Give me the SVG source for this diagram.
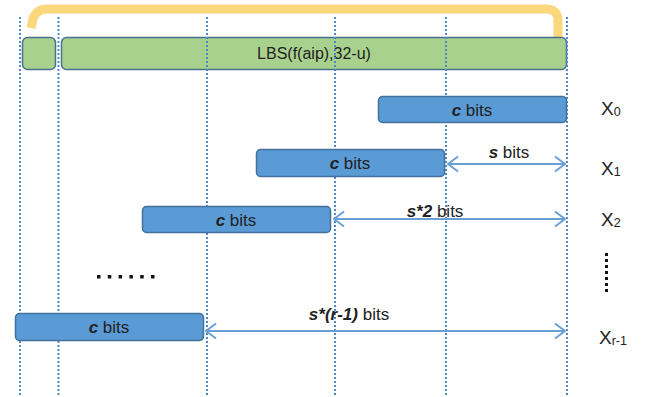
<svg xmlns="http://www.w3.org/2000/svg" width="652" height="397" viewBox="0 0 652 397">
<defs>
<marker id="ah" viewBox="0 0 12 18" refX="11" refY="9" markerWidth="12" markerHeight="18" markerUnits="userSpaceOnUse" orient="auto-start-reverse">
<path d="M1 1.5 L11 9 L1 16.5" fill="none" stroke="#6A9FD6" stroke-width="2"/>
</marker>
<style>
.guide{stroke:#4F87C7;stroke-width:2;stroke-dasharray:2 2;fill:none}
.green{fill:#A9D18E;stroke:#4A7090;stroke-width:1.5}
.blue{fill:#5B9BD5;stroke:#41719C;stroke-width:1.5}
.t{font-family:"Liberation Sans",Arial,sans-serif;fill:#222}
.lbl{font-size:17px;text-anchor:middle}
.dim{stroke:#6A9FD6;stroke-width:1.8;fill:none;marker-start:url(#ah);marker-end:url(#ah)}
.dot{fill:#111}
</style>
</defs>
<g id="bracket">
<path d="M31 28 L33 19 Q36 9 48 9 L546 9 Q558 9 558 21 L558 38" fill="none" stroke="#FBD77E" stroke-width="9" stroke-linejoin="round"/>
</g>
<g id="lbs-small"><rect class="green" x="22.5" y="37.5" width="33" height="32" rx="5"/></g>
<g id="lbs-main">
<rect class="green" x="61.5" y="37.5" width="505" height="32" rx="5"/>
<text class="t" x="314" y="59" font-size="16" text-anchor="middle">LBS(f(aip),32-u)</text>
</g>
<g id="guides">
<line class="guide" x1="20" y1="17" x2="20" y2="397"/>
<line class="guide" x1="58.5" y1="17" x2="58.5" y2="397"/>
<line class="guide" x1="207" y1="17" x2="207" y2="397"/>
<line class="guide" x1="335" y1="17" x2="335" y2="397"/>
<line class="guide" x1="446" y1="17" x2="446" y2="397"/>
<line class="guide" x1="567" y1="17" x2="567" y2="397"/>
</g>
<g id="x0">
<rect class="blue" x="378.5" y="96.5" width="188" height="26" rx="4"/>
<text class="t lbl" x="472" y="116"><tspan font-weight="bold" font-style="italic">c</tspan> bits</text>
</g>
<g id="x1">
<rect class="blue" x="256.5" y="149.5" width="188" height="27" rx="4"/>
<text class="t lbl" x="350" y="169"><tspan font-weight="bold" font-style="italic">c</tspan> bits</text>
</g>
<g id="x2">
<rect class="blue" x="142.5" y="206.5" width="188" height="26" rx="4"/>
<text class="t lbl" x="236" y="226"><tspan font-weight="bold" font-style="italic">c</tspan> bits</text>
</g>
<g id="xr1">
<rect class="blue" x="15.5" y="313.5" width="188" height="27" rx="4"/>
<text class="t lbl" x="109" y="333"><tspan font-weight="bold" font-style="italic">c</tspan> bits</text>
</g>
<g id="connectors">
<line class="dim" x1="448" y1="164" x2="565" y2="164"/>
<line class="dim" x1="334" y1="219" x2="565" y2="219"/>
<line class="dim" x1="206" y1="331" x2="565" y2="331"/>
</g>
<g id="dim-labels">
<text class="t lbl" x="509" y="158"><tspan font-weight="bold" font-style="italic">s</tspan> bits</text>
<text class="t lbl" x="435" y="217"><tspan font-weight="bold" font-style="italic">s*2</tspan> bits</text>
<text class="t lbl" x="349" y="320"><tspan font-weight="bold" font-style="italic">s*(r-1)</tspan> bits</text>
</g>
<g id="row-labels" class="t" font-size="19">
<text x="601" y="115">X<tspan font-size="12.5" dy="1">0</tspan></text>
<text x="601" y="175">X<tspan font-size="12.5" dy="1">1</tspan></text>
<text x="601" y="226">X<tspan font-size="12.5" dy="1">2</tspan></text>
<text x="599" y="344">X<tspan font-size="12.5" dy="1">r-1</tspan></text>
</g>
<g id="ellipsis-h">
<rect class="dot" x="97" y="275" width="3.5" height="3.5"/>
<rect class="dot" x="107.8" y="275" width="3.5" height="3.5"/>
<rect class="dot" x="118.6" y="275" width="3.5" height="3.5"/>
<rect class="dot" x="129.4" y="275" width="3.5" height="3.5"/>
<rect class="dot" x="140.2" y="275" width="3.5" height="3.5"/>
<rect class="dot" x="151" y="275" width="3.5" height="3.5"/>
</g>
<g id="ellipsis-v">
<rect class="dot" x="605" y="253" width="3" height="3"/>
<rect class="dot" x="605" y="259" width="3" height="3"/>
<rect class="dot" x="605" y="265" width="3" height="3"/>
<rect class="dot" x="605" y="271" width="3" height="3"/>
<rect class="dot" x="605" y="277" width="3" height="3"/>
<rect class="dot" x="605" y="283" width="3" height="3"/>
<rect class="dot" x="605" y="289" width="3" height="3"/>
</g>
</svg>
